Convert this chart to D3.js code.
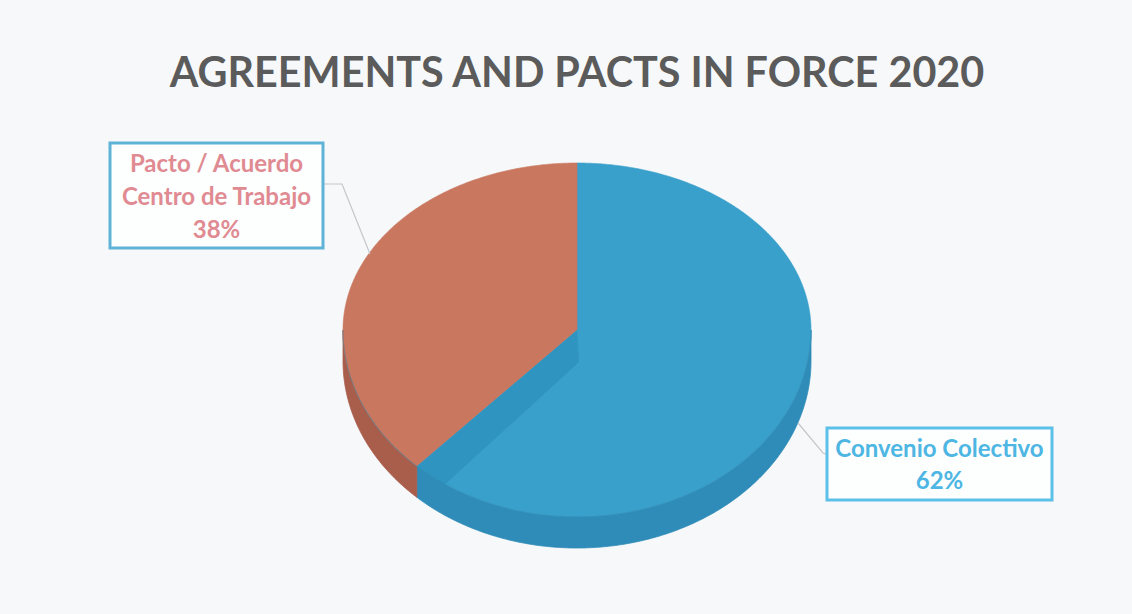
<!DOCTYPE html>
<html>
<head>
<meta charset="utf-8">
<script src="https://cdn.jsdelivr.net/npm/d3@7"></script>
<style>
  html, body { margin: 0; padding: 0; background: #f6f8fa; }
  svg { display: block; }
  text { font-family: Lato, "Open Sans", sans-serif; font-weight: bold; }
</style>
</head>
<body>
<svg id="chart" width="1132" height="614"></svg>
<script>
const title = "AGREEMENTS AND PACTS IN FORCE 2020";
const categories = ["Convenio Colectivo", "Pacto / Acuerdo Centro de Trabajo"];
const values = [62, 38];
const labelLines = [["Convenio Colectivo", "62%"], ["Pacto / Acuerdo", "Centro de Trabajo", "38%"]];

const topColors = ["#399fcb", "#c9775f"];
const sideColors = ["#2f8cb8", "#a95d4b"];
const textColors = ["#4db6e3", "#e08a92"];

const svg = d3.select("#chart");
const W = 1132, H = 614;

svg.append("rect").attr("width", W).attr("height", H).attr("fill", "#f6f8fa");

// title, sized to fit the reference width
const t = svg.append("text")
  .attr("x", 577).attr("y", 87)
  .attr("text-anchor", "middle")
  .attr("fill", "#5b5b5b")
  .attr("font-size", 40)
  .text(title);
const tw = t.node().getComputedTextLength();
t.attr("font-size", 40 * 815 / tw);

// 3D pie geometry
const cx = 577, cy = 330, rx = 234, ryTop = 167, ryBot = 187, depth = 31;
const pt = (a, z = 0) => {
  const c = Math.cos(a);
  const ry = c > 0 ? ryTop : ryBot;
  return [cx + rx * Math.sin(a), cy - ry * c + z];
};

const pie = d3.pie().sort(null).value((d) => d);
const arcs = pie(values);

function rimPoints(a0, a1, z) {
  const n = Math.max(2, Math.ceil((a1 - a0) / 0.01));
  return d3.range(n + 1).map((i) => pt(a0 + (a1 - a0) * i / n, z));
}

const line = d3.line();

// side walls (front half only)
const gSide = svg.append("g");
arcs.forEach((d, i) => {
  const s = Math.max(d.startAngle, Math.PI / 2);
  const e = Math.min(d.endAngle, 3 * Math.PI / 2);
  if (e <= s) return;
  const pts = rimPoints(s, e, 0).concat(rimPoints(s, e, depth).reverse());
  gSide.append("path")
    .attr("d", line(pts) + "Z")
    .attr("fill", sideColors[i])
    .attr("stroke", sideColors[i])
    .attr("stroke-width", 0.8);
});

// top faces
const gTop = svg.append("g");
arcs.forEach((d, i) => {
  const pts = [[cx, cy]].concat(rimPoints(d.startAngle, d.endAngle, 0));
  gTop.append("path")
    .attr("d", line(pts) + "Z")
    .attr("fill", topColors[i])
    .attr("stroke", topColors[i])
    .attr("stroke-width", 0.6);
});

// darker bevel band inside the blue slice along the boundary with the red one
const defs = svg.append("defs");
const clipPts = rimPoints(0, 2 * Math.PI, 0);
defs.append("clipPath").attr("id", "topClip")
  .append("path").attr("d", line(clipPts) + "Z");
const b = pt(arcs[0].endAngle, 0);
gTop.append("path")
  .attr("clip-path", "url(#topClip)")
  .attr("d", line([[cx, cy], b, [b[0] + 24, b[1] + 22], [cx + 2, cy + 32]]) + "Z")
  .attr("fill", "#3094c1");

// subtle shading at the disc's front rim
gTop.append("path")
  .attr("d", line(rimPoints(Math.PI / 2, 3 * Math.PI / 2, 0)))
  .attr("fill", "none")
  .attr("stroke", "#2a7fa6")
  .attr("stroke-opacity", 0.4)
  .attr("stroke-width", 1.2);

// leader lines
const leaders = [
  [[798, 423], [823, 453], [828, 455]],
  [[370, 254], [342, 184], [323, 184]],
];
leaders.forEach((l) => {
  svg.append("path")
    .attr("d", line(l))
    .attr("fill", "none")
    .attr("stroke", "#c3c8cc")
    .attr("stroke-width", 1.2);
});

// data label boxes
const boxes = [
  { x: 827, y: 428, w: 225, h: 72 },
  { x: 110, y: 143, w: 213, h: 105 },
];
labelLines.forEach((lines, i) => {
  const bx = boxes[i];
  svg.append("rect")
    .attr("x", bx.x).attr("y", bx.y)
    .attr("width", bx.w).attr("height", bx.h)
    .attr("fill", "#fdfefe")
    .attr("stroke", i === 0 ? "#5cc0e8" : "#5fb3d6")
    .attr("stroke-width", 3);
  const lh = i === 0 ? 32 : 33;
  const y0 = bx.y + bx.h / 2 - (lines.length - 1) * lh / 2 + 9;
  lines.forEach((s, j) => {
    svg.append("text")
      .attr("x", bx.x + bx.w / 2)
      .attr("y", y0 + j * lh)
      .attr("text-anchor", "middle")
      .attr("font-size", 24)
      .attr("fill", textColors[i])
      .text(s);
  });
});
</script>
</body>
</html>
